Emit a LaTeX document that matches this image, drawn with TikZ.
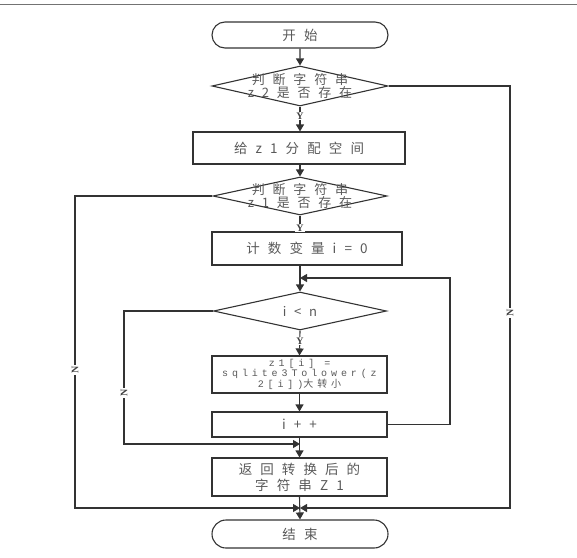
\documentclass[tikz,border=0pt]{standalone}
\usepackage{fontspec}
\setmainfont{Noto Sans CJK SC}[LetterSpace=60]
\newfontfamily\monofnt{Liberation Mono}[LetterSpace=39]
\newfontfamily\cjksmall{Noto Sans CJK SC}[LetterSpace=39]
\newfontfamily\labfnt{Liberation Serif}
\usetikzlibrary{shapes.geometric,shapes.misc,arrows.meta}
\begin{document}
\begin{tikzpicture}[x=1pt,y=-1pt,
  line/.style={draw=black!80, line width=1.1pt},
  arr/.style={line, -{Triangle[length=7pt,width=8pt]}},
  box/.style={rectangle, draw=black!80, line width=1.1pt, text=black!65,
    font=\fontsize{13.5}{16}\selectfont, align=center, inner sep=0pt},
  dec/.style={diamond, draw=black!80, line width=1.1pt, inner sep=0pt},
  dtext/.style={text=black!65, font=\fontsize{13}{13}\selectfont, align=center, inner sep=0pt},
  term/.style={rounded rectangle, draw=black!80, line width=1.1pt, text=black!65,
    font=\fontsize{13.5}{16}\selectfont, inner sep=0pt},
  ylab/.style={fill=white, text=black!75, font=\labfnt\bfseries\fontsize{10}{10}\selectfont, inner sep=1pt},
  nlab/.style={fill=white, text=black!75, font=\labfnt\bfseries\fontsize{10}{10}\selectfont, inner sep=1pt, rotate=90}
]
\useasboundingbox (0,0) rectangle (577,557);
\draw[draw=black!55, line width=1pt] (0,4) -- (577,4);

\node[term, minimum width=176pt, minimum height=26pt] (start) at (300,35) {开始};
\node[dec, minimum width=176pt, minimum height=40pt] (d1) at (300,86) {};
\node[dtext] (d1t) at (d1) {判断字符串\\z2是否存在};
\node[box, minimum width=212pt, minimum height=32pt] (b1) at (299,148) {给z1分配空间};
\node[dec, minimum width=174pt, minimum height=38pt] (d2) at (300,196) {};
\node[dtext] (d2t) at (d2) {判断字符串\\z1是否存在};
\node[box, minimum width=190pt, minimum height=33pt] (b2) at (307,248.5) {计数变量i=0};
\node[dec, minimum width=173pt, minimum height=38pt] (d3) at (300,311) {};
\node[dtext] (d3t) at (d3) {i<n};
\node[box, minimum width=175pt, minimum height=37pt, font=\monofnt\fontsize{10}{9.5}\selectfont] (b3) at (299.5,374.5)
  {z1[i] =\\sqlite3Tolower(z\\2[i])\cjksmall 大转小};
\node[box, minimum width=175pt, minimum height=25pt] (b4) at (299.5,424.5) {i++};
\node[box, minimum width=175pt, minimum height=38pt] (b5) at (299.5,477) {返回转换后的\\字符串Z1};
\node[term, minimum width=176pt, minimum height=28pt] (end) at (300,534) {结束};

\coordinate (m1) at (300,278);
\coordinate (m2) at (300,444);
\coordinate (m3) at (300,508);
\coordinate (rr) at (510,86);
\coordinate (ll) at (75,196);
\coordinate (l3) at (124,311);
\coordinate (lp) at (450,278);

\draw[arr] (start) -- (d1);
\draw[arr] (d1.south) -- (d1.south |- b1.north);
\draw[arr] (d1.south |- b1.south) -- (d2.north);
\draw[arr] (d2.south) -- (d2.south |- b2.north);
\draw[arr] (d2.south |- b2.south) -- (d3.north);
\draw[arr] (d3.south) -- (b3.north);
\draw[arr] (b3.south) -- (b4.north);
\draw[arr] (b4.south) -- (b5.north);
\draw[arr] (b5.south) -- (end.north);

\draw[arr] (b4.east) -- (b4.east -| lp) -- (lp) -- (m1);
\draw[arr] (d3.west) -- (l3) -- (l3 |- m2) -- (m2);
\draw[arr] (d1.east) -- (rr) -- (rr |- m3) -- (m3);
\draw[arr] (d2.west) -- (ll) -- (ll |- m3) -- (m3);

\node[ylab] (y1) at (300,116) {Y};
\node[ylab] (y2) at (300,228) {Y};
\node[ylab] (y3) at (300,341) {Y};
\node[nlab] (n1) at (510,313) {N};
\node[nlab] (n2) at (75,370) {N};
\node[nlab] (n3) at (124,393) {N};
\end{tikzpicture}
\end{document}
